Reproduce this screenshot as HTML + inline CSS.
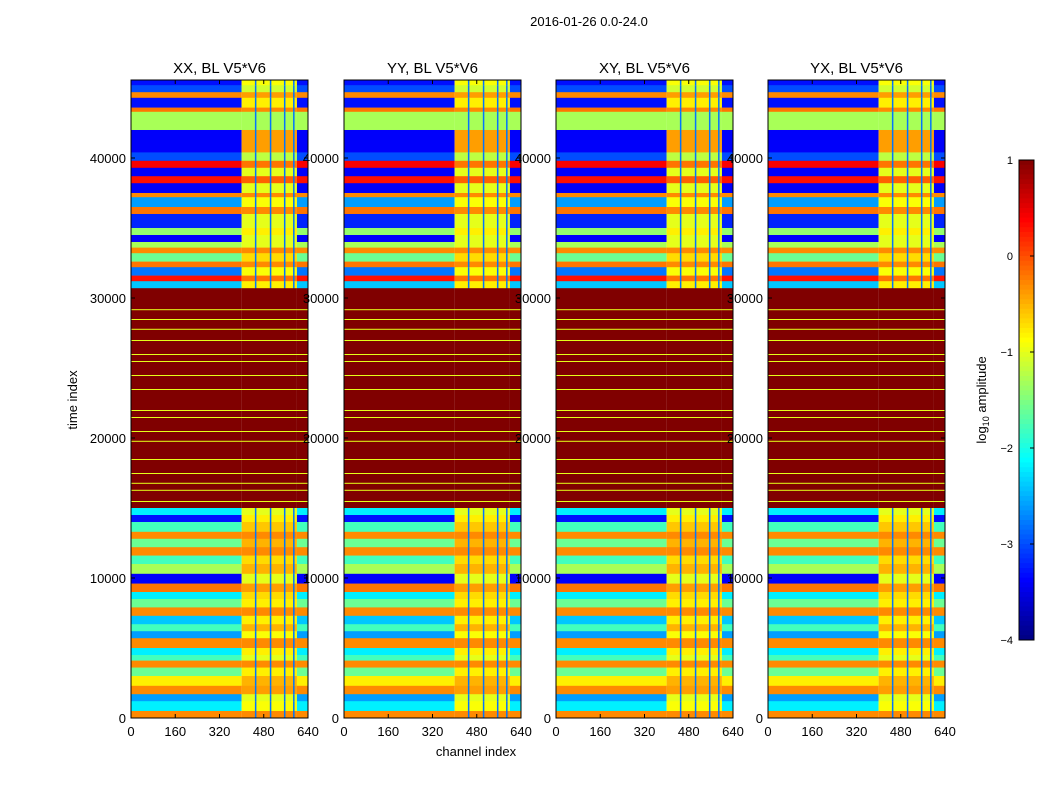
<!DOCTYPE html>
<html><head><meta charset="utf-8"><style>
body{margin:0;background:#fff;}
svg text{font-family:"Liberation Sans",sans-serif;fill:#000;}
</style></head><body>
<svg id="fig" width="1050" height="800" viewBox="0 0 1050 800" xmlns="http://www.w3.org/2000/svg">
<rect width="1050" height="800" fill="#fff"/>
<text x="589" y="26" font-size="13" text-anchor="middle">2016-01-26 0.0-24.0</text>
<text x="476" y="756" font-size="13" text-anchor="middle">channel index</text>
<text transform="translate(77,400) rotate(-90)" font-size="13" text-anchor="middle">time index</text>
<g id="panels"></g>
<g id="cbar"></g>
</svg>
<script>
const panelTitles=["XX, BL V5*V6","YY, BL V5*V6","XY, BL V5*V6","YX, BL V5*V6"];
const bandTop=[45571,45200,44700,44300,43600,43300,42000,40400,39800,39300,38700,38200,37500,37200,36500,36000,35000,34500,34000,33600,33200,32600,32200,31600,31200,30700,15000,14500,14000,13300,12800,12200,11600,11000,10300,9600,9000,8500,7900,7300,6700,6200,5700,5000,4500,4100,3600,3000,2300,1700,1200,500];
const bandLeft=[-3.3,-3,-0.3,-3.3,-0.2,-1.3,-3.4,-3,0.4,-3.4,0.3,-3.4,-0.3,-2.6,-0.2,-3.2,-1.4,-3.4,-1.3,-0.3,-1.6,-0.2,-2.8,0.3,-2.4,1,-2.2,-3.3,-1.8,-0.3,-1.6,-0.3,-1.8,-1.3,-3.4,-0.2,-2.2,-1.6,-0.3,-2.4,-1.8,-2.6,-0.3,-2.2,-1.8,-0.3,-1.6,-0.8,-0.3,-2.6,-2.2,-0.3];
const bandRight=[-0.9,-1.1,-0.4,-0.8,-0.3,-1.3,-0.4,-1.2,-0.2,-1,-0.1,-1,-0.3,-0.9,-0.3,-1,-0.8,-1,-1,-0.3,-0.7,-0.3,-0.9,-0.2,-0.8,1,-1,-0.8,-0.6,-0.3,-0.5,-0.3,-0.7,-0.5,-1,-0.4,-0.7,-0.8,-0.3,-0.8,-0.5,-0.9,-0.3,-0.8,-1,-0.3,-0.8,-0.5,-0.4,-1,-0.9,-0.3];
const thinLines=[29200,28500,27800,27000,26000,25500,24500,23500,22000,21500,20500,19800,18500,17500,16800,16300,15500];
const stripeChannels=[448,502,553,586];
const xTicks=[0,160,320,480,640];
const yTicks=[0,10000,20000,30000,40000];
const cbTicks=[1,0,-1,-2,-3,-4];
const panelX=[131,344,556,768];
const PW=177,PT=80,PB=718,TMAX=45571,CMAX=640;
const ns="http://www.w3.org/2000/svg";
function jet(v){let t=Math.max(0,Math.min(1,(v+4)/5));
 const f=x=>Math.max(0,Math.min(1,1.5-Math.abs(4*t-x)));
 return `rgb(${Math.round(255*f(3))},${Math.round(255*f(2))},${Math.round(255*f(1))})`;}
function el(tag,attrs,parent){const e=document.createElementNS(ns,tag);for(const k in attrs)e.setAttribute(k,attrs[k]);parent.appendChild(e);return e;}
const panels=document.getElementById('panels');
panelX.forEach((px,pi)=>{
 const xs=c=>px+c/CMAX*PW, ys=t=>PB-(t/TMAX)*(PB-PT);
 const g=el('g',{},panels);
 
 
 for(let i=0;i<bandTop.length;i++){
  const top=bandTop[i],bot=i+1<bandTop.length?bandTop[i+1]:0;
  const y0=ys(top),h=ys(bot)-y0;
  const r1=el('rect',{x:xs(0),y:y0,width:xs(400)-xs(0),height:h+0.3,fill:jet(bandLeft[i])},g);
  
  
  const r2=el('rect',{x:xs(400),y:y0,width:xs(600)-xs(400),height:h+0.3,fill:jet(bandRight[i])},g);
  
  
  const r3=el('rect',{x:xs(600),y:y0,width:xs(640)-xs(600),height:h+0.3,fill:jet(bandLeft[i])},g);
  
  
  if(bandLeft[i]<1){stripeChannels.forEach(c=>{
   const s=el('rect',{x:xs(c),y:y0,width:1.5,height:h+0.3,fill:jet(-2.8)},g);
   
   });}
 }
 thinLines.forEach(t=>{
  const l=el('rect',{x:xs(0),y:ys(t),width:PW,height:1,fill:jet(-1)},g);
  
  });
 const fr=el('rect',{x:px,y:PT,width:PW,height:PB-PT,fill:'none',stroke:'#000','stroke-width':1},g);
 
 
 const tt=el('text',{x:px+PW/2,y:PT-7,'font-size':15,'text-anchor':'middle'},g);
 tt.textContent=panelTitles[pi];
 
 
 xTicks.forEach(c=>{
  el('line',{x1:xs(c),x2:xs(c),y1:PB,y2:PB-4,stroke:'#000'},g);
  el('line',{x1:xs(c),x2:xs(c),y1:PT,y2:PT+4,stroke:'#000'},g);
  const t=el('text',{x:xs(c),y:PB+18,'font-size':13,'text-anchor':'middle'},g);
  t.textContent=c;
  
  });
 yTicks.forEach(v=>{
  el('line',{x1:px,x2:px+4,y1:ys(v),y2:ys(v),stroke:'#000'},g);
  el('line',{x1:px+PW,x2:px+PW-4,y1:ys(v),y2:ys(v),stroke:'#000'},g);
  const t=el('text',{x:px-5,y:ys(v)+5,'font-size':13,'text-anchor':'end'},g);
  t.textContent=v;
  
  });
});
const cb=document.getElementById('cbar');
const CX=1019,CW=15,CT=160,CB=640;
const cys=v=>CT+(1-v)/5*(CB-CT);
for(let k=0;k<100;k++){
 const v1=1-k*0.05;
 const r=el('rect',{x:CX,y:cys(v1),width:CW,height:(CB-CT)/100+0.5,fill:jet(v1-0.025)},cb);
 
 }
el('rect',{x:CX,y:CT,width:CW,height:CB-CT,fill:'none',stroke:'#000'},cb);
cbTicks.forEach(v=>{
 el('line',{x1:CX+CW,x2:CX+CW-4,y1:cys(v),y2:cys(v),stroke:'#000'},cb);
 const t=el('text',{x:CX-6,y:cys(v)+4,'font-size':11,'text-anchor':'end'},cb);
 t.textContent=v<0?'\u2212'+(-v):v;
 
 });
const lab=el('text',{transform:'translate(986,400) rotate(-90)','font-size':13,'text-anchor':'middle'},cb);
lab.innerHTML='log<tspan font-size="9" dy="3">10</tspan><tspan dy="-3"> amplitude</tspan>';


</script>
</body></html>
